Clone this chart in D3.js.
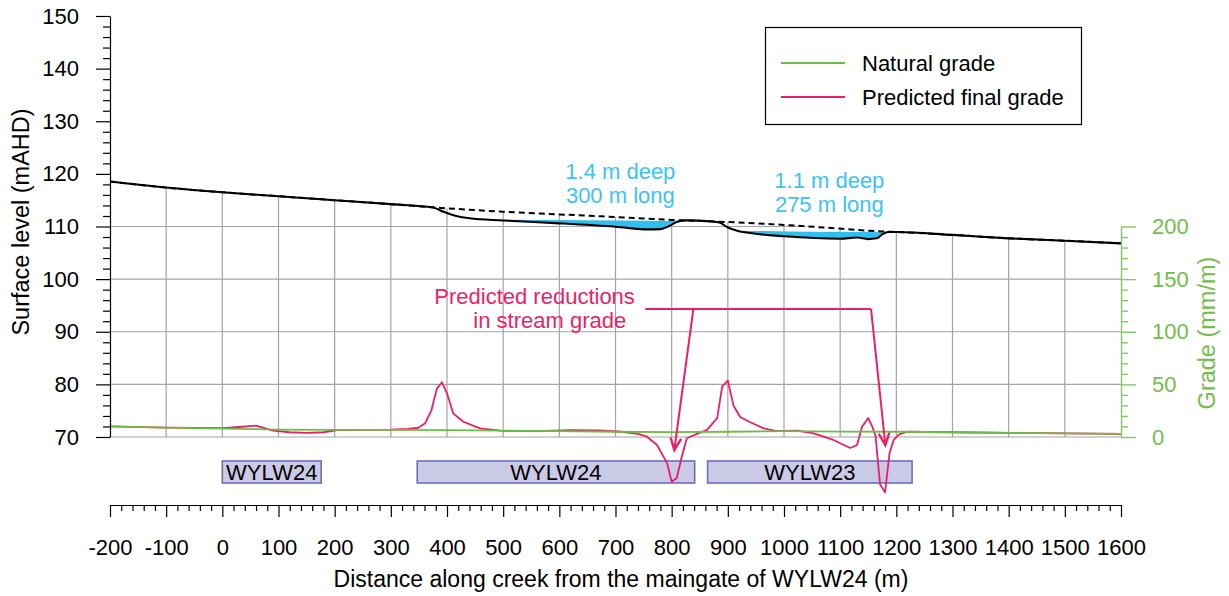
<!DOCTYPE html>
<html><head><meta charset="utf-8">
<script src="https://cdn.jsdelivr.net/npm/d3@7"></script>
<style>
body{margin:0;background:#fff;}
svg{display:block;font-family:"Liberation Sans",Arial,Helvetica,sans-serif;}
</style></head><body>
<svg id="chart" width="1229" height="596"></svg>
<script>
// ---------------- DATA ----------------
const distanceTicks = [-200,-100,0,100,200,300,400,500,600,700,800,900,1000,1100,1200,1300,1400,1500,1600];
const levelTicks = [70,80,90,100,110,120,130,140,150];
const gradeTicks = [0,50,100,150,200];

// surface levels (mAHD) along creek (m)
const naturalSurface = [[-200,118.55],[-100,117.4],[0,116.5],[100,115.75],[200,115.0],[300,114.25],[375,113.65],[500,112.8],[600,112.3],[700,111.8],[800,111.25],[900,110.85],[1000,110.3],[1100,109.6],[1175,109.05],[1200,108.95],[1300,108.4],[1400,107.75],[1500,107.3],[1600,106.8]];
const predictedSurface = [[-200,118.55],[-100,117.4],[0,116.5],[100,115.75],[200,115.0],[300,114.25],[375,113.6],[395,112.75],[410,112.2],[440,111.56],[500,111.15],[600,110.6],[700,109.95],[760,109.45],[780,109.5],[795,110.05],[810,110.9],[825,111.17],[870,110.97],[885,110.76],[900,109.8],[915,109.24],[950,108.62],[1000,108.15],[1100,107.68],[1130,107.9],[1150,107.6],[1165,107.75],[1175,108.5],[1185,108.95],[1200,108.95],[1300,108.4],[1400,107.75],[1500,107.3],[1600,106.8]];

// ponding: [start m, level], [end m, level]
const ponds = [
  [[505,111.32],[818,111.08]],
  [[922,109.18],[1183,108.92]]
];

// stream grade (mm/m)
const naturalGrade = [[-200,10],[-100,9],[0,8],[100,7],[200,6.8],[300,6.8],[400,6.5],[500,6],[600,5.5],[700,5],[800,4.6],[900,5],[1000,5.5],[1100,5.2],[1200,5],[1300,4.5],[1400,4],[1500,3.5],[1600,3]];
const predictedGrade = [[-200,10],[-100,9],[0,8.5],[30,9.5],[60,10.8],[75,8.5],[90,6],[120,4.5],[150,4],[180,4.5],[205,6.5],[250,6.8],[300,7],[330,7.6],[349,8.8],[361,13],[372,25],[382,46],[391,52],[400,41.5],[411,22.5],[429,14.5],[459,8.2],[495,6],[560,5.5],[620,6.5],[670,6.3],[710,5],[740,3],[756,0.3],[774,-7.6],[792,-25],[800,-42.5],[809,-39],[818,-18.7],[827,-1.2],[845,3],[863,6.7],[881,18],[890,48],[900,53.5],[910,30],[922,19],[940,14],[964,8.2],[987,5.5],[1023,6],[1053,3.5],[1088,-2.8],[1118,-10.5],[1130,-7.6],[1139,9.8],[1150,18],[1157,10],[1163,1],[1171,-45],[1180,-52.5],[1188,-15],[1195,-3],[1205,2.5],[1220,5],[1300,4.5],[1400,4],[1500,3.5],[1600,3]];

// mining panels [start m, end m, name]
const panels = [[0,176,"WYLW24"],[347,841,"WYLW24"],[864,1228,"WYLW23"]];

// annotations (m, mAHD)
const pondLabels = [
  {x:708.6, lines:[["1.4 m deep",119.0],["300 m long",114.45]]},
  {x:1080.7, lines:[["1.1 m deep",117.3],["275 m long",112.75]]}
];
const reductionText = [["Predicted reductions",377.4,95.27],["in stream grade",446.9,90.7]];
const reductionBar = [[753,94.3],[1155,94.3]];
const reductionArrows = [[[838.6,94.3],[804.7,67.53]],[[1155,94.3],[1180.4,68.48]]];

// ---------------- STYLE ----------------
const C = {
  grid:"#a3a3a3", green:"#6cbd45", greenAxis:"#86c865", greenText:"#72bd4b",
  pink:"#ea1f69", blue:"#30c0ef", blueText:"#3dc3f0",
  panelFill:"#cbcae6", panelStroke:"#6b6fb6"
};
const FS = 22, TFS = 23;

const svg = d3.select("#chart");
const x = d3.scaleLinear().domain([-200,1600]).range([110,1121]);
const y = d3.scaleLinear().domain([70,150]).range([437,16]);
const yg = d3.scaleLinear().domain([0,200]).range([437,y(110)]);

// grid
const grid = svg.append("g");
grid.selectAll("line.v").data(distanceTicks.filter(d=>d>-200 && d<1600)).join("line")
  .attr("x1",d=>x(d)).attr("x2",d=>x(d)).attr("y1",y(150)).attr("y2",y(70))
  .attr("stroke",C.grid).attr("stroke-width",1.2);
grid.selectAll("line.h").data(levelTicks).join("line")
  .attr("x1",x(-200)).attr("x2",x(1600)).attr("y1",d=>y(d)).attr("y2",d=>y(d))
  .attr("stroke",C.grid).attr("stroke-width",1.2);

// white mask above natural surface
svg.append("path").datum(naturalSurface)
  .attr("d", d3.area().x(d=>x(d[0])).y0(y(150)-2).y1(d=>y(d[1])).curve(d3.curveMonotoneX))
  .attr("fill","#fff");

// ponds
const defs = svg.append("defs");
ponds.forEach((p,i)=>{
  const lvl = d3.scaleLinear().domain([p[0][0],p[1][0]]).range([p[0][1],p[1][1]]);
  defs.append("clipPath").attr("id","pond"+i).append("polygon")
    .attr("points",[[x(p[0][0]),y(p[0][1])],[x(p[1][0]),y(p[1][1])],[x(p[1][0]),y(70)],[x(p[0][0]),y(70)]].map(q=>q.join(",")).join(" "));
  svg.append("path").datum(predictedSurface)
    .attr("clip-path","url(#pond"+i+")")
    .attr("d", d3.area().x(d=>x(d[0])).y0(d=>y(d[1])).y1(d=>y(lvl(d[0]))).curve(d3.curveMonotoneX))
    .attr("fill",C.blue);
});

// surface lines
svg.append("path").datum(naturalSurface)
  .attr("d", d3.line().x(d=>x(d[0])).y(d=>y(d[1])).curve(d3.curveMonotoneX))
  .attr("fill","none").attr("stroke","#000").attr("stroke-width",2).attr("stroke-dasharray","6,4");
svg.append("path").datum(predictedSurface)
  .attr("d", d3.line().x(d=>x(d[0])).y(d=>y(d[1])).curve(d3.curveMonotoneX))
  .attr("fill","none").attr("stroke","#000").attr("stroke-width",2.1);

// panels (drawn beneath the grade lines)
const pg = svg.append("g");
panels.forEach(p=>{
  pg.append("rect").attr("x",x(p[0])).attr("y",461).attr("width",x(p[1])-x(p[0])).attr("height",22)
    .attr("fill",C.panelFill).attr("stroke",C.panelStroke).attr("stroke-width",1.6);
  pg.append("text").attr("x",(x(p[0])+x(p[1]))/2).attr("y",480).attr("text-anchor","middle")
    .attr("font-size",FS).attr("fill","#000").text(p[2]);
});

// grade lines
const gline = d3.line().x(d=>x(d[0])).y(d=>yg(d[1]));
svg.append("path").datum(predictedGrade).attr("d",gline)
  .attr("fill","none").attr("stroke",C.pink).attr("stroke-width",1.8).attr("stroke-linejoin","round");
svg.append("path").datum(naturalGrade).attr("d",gline)
  .attr("fill","none").attr("stroke",C.green).attr("stroke-width",1.8);

// left axis
const fmt = d=>String(d);
const la = svg.append("g").attr("transform",`translate(${x(-200)},0)`)
  .call(d3.axisLeft(y).tickValues(levelTicks).tickSize(14).tickSizeOuter(0).tickPadding(17).tickFormat(fmt));
la.append("g").call(d3.axisLeft(y).tickValues(d3.range(70,151,2).filter(d=>d%10)).tickSize(7).tickFormat(""))
  .select(".domain").remove();
la.selectAll("text").attr("font-size",FS).attr("font-family",null).attr("fill","#000");
la.selectAll("line,path").attr("stroke","#000").attr("stroke-width",1.2);

// right axis
const ra = svg.append("g").attr("transform",`translate(${x(1600)},0)`)
  .call(d3.axisRight(yg).tickValues(gradeTicks).tickSize(15).tickSizeOuter(0).tickPadding(16).tickFormat(fmt));
ra.append("g").call(d3.axisRight(yg).tickValues(d3.range(0,201,10).filter(d=>d%50)).tickSize(7).tickFormat(""))
  .select(".domain").remove();
ra.selectAll("text").attr("font-size",FS).attr("font-family",null).attr("fill",C.greenText);
ra.selectAll("line,path").attr("stroke",C.greenAxis).attr("stroke-width",1.4);

// bottom axis
const ba = svg.append("g").attr("transform","translate(0,505)")
  .call(d3.axisBottom(x).tickValues(distanceTicks).tickSize(12).tickSizeOuter(0).tickPadding(22).tickFormat(fmt));
ba.append("g").call(d3.axisBottom(x).tickValues(d3.range(-200,1601,20).filter(d=>d%100)).tickSize(6).tickFormat(""))
  .select(".domain").remove();
ba.selectAll("text").attr("font-size",FS).attr("font-family",null).attr("fill","#000");
ba.selectAll("line,path").attr("stroke","#000").attr("stroke-width",1.2);

// titles
svg.append("text").attr("x",621).attr("y",587).attr("text-anchor","middle").attr("font-size",TFS).text("Distance along creek from the maingate of WYLW24 (m)");
svg.append("text").attr("transform","translate(29,222) rotate(-90)").attr("text-anchor","middle").attr("font-size",TFS+0.5).text("Surface level (mAHD)");
svg.append("text").attr("transform","translate(1215,333) rotate(-90)").attr("text-anchor","middle").attr("font-size",TFS+0.5).attr("fill",C.greenText).text("Grade (mm/m)");

// pond labels
pondLabels.forEach(l=>{
  l.lines.forEach(t=>{
    svg.append("text").attr("x",x(l.x)).attr("y",y(t[1])).attr("text-anchor","middle")
      .attr("font-size",FS).attr("fill",C.blueText).text(t[0]);
  });
});

// reduction annotation
reductionText.forEach(t=>{
  svg.append("text").attr("x",x(t[1])).attr("y",y(t[2])).attr("font-size",FS).attr("fill",C.pink).text(t[0]);
});
svg.append("line").attr("x1",x(reductionBar[0][0])).attr("y1",y(reductionBar[0][1]))
  .attr("x2",x(reductionBar[1][0])).attr("y2",y(reductionBar[1][1]))
  .attr("stroke",C.pink).attr("stroke-width",2);
reductionArrows.forEach(a=>{
  const x1=x(a[0][0]), y1=y(a[0][1]), x2=x(a[1][0]), y2=y(a[1][1]);
  svg.append("line").attr("x1",x1).attr("y1",y1).attr("x2",x2).attr("y2",y2)
    .attr("stroke",C.pink).attr("stroke-width",2);
  const ang = Math.atan2(y1-y2, x1-x2), L=13, s=0.42;
  const p1=[x2+L*Math.cos(ang+s), y2+L*Math.sin(ang+s)], p2=[x2+L*Math.cos(ang-s), y2+L*Math.sin(ang-s)];
  svg.append("path").attr("d",`M${p1[0]},${p1[1]}L${x2},${y2}L${p2[0]},${p2[1]}`)
    .attr("fill","none").attr("stroke",C.pink).attr("stroke-width",2.4).attr("stroke-linejoin","miter");
});

// legend
const lg = svg.append("g");
lg.append("rect").attr("x",765.5).attr("y",27.5).attr("width",316).attr("height",97)
  .attr("fill","#fff").attr("stroke","#000").attr("stroke-width",1.2);
[["Natural grade",C.green,63],["Predicted final grade",C.pink,97]].forEach(e=>{
  lg.append("line").attr("x1",781).attr("x2",845).attr("y1",e[2]).attr("y2",e[2]).attr("stroke",e[1]).attr("stroke-width",1.8);
  lg.append("text").attr("x",862).attr("y",e[2]+8).attr("font-size",FS).attr("fill","#000").text(e[0]);
});
</script>
</body></html>
